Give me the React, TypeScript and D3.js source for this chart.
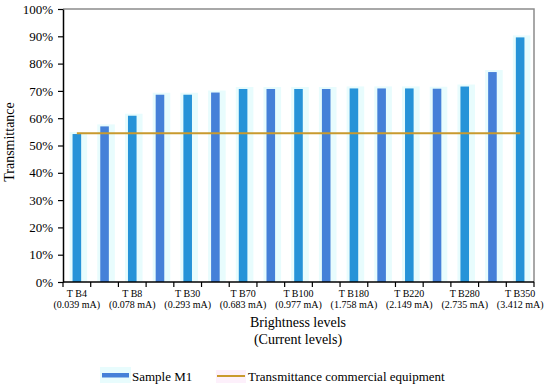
import React, { useEffect, useRef } from 'react';
import * as d3 from 'd3';

// brightness levels, only every other one gets a label on the axis
const levels = ['T B4', '', 'T B8', '', 'T B30', '', 'T B70', '', 'T B100', '', 'T B180', '', 'T B220', '', 'T B280', '', 'T B350'];
const currents = ['(0.039 mA)', '', '(0.078 mA)', '', '(0.293 mA)', '', '(0.683 mA)', '', '(0.977 mA)', '', '(1.758 mA)', '', '(2.149 mA)', '', '(2.735 mA)', '', '(3.412 mA)'];
// transmittance of sample M1 (%)
const sampleM1 = [54.2, 57.0, 60.9, 68.6, 68.6, 69.4, 70.7, 70.7, 70.7, 70.7, 70.9, 70.9, 70.9, 70.8, 71.6, 76.9, 89.6];
const commercial = 54.5;
const yTicks = [0, 10, 20, 30, 40, 50, 60, 70, 80, 90, 100];

const W = 550;
const H = 392;
const font = "'Liberation Serif', 'Times New Roman', serif";

export default function App() {
  const svgRef = useRef<SVGSVGElement>(null);

  useEffect(() => {
    const svg = d3.select(svgRef.current);
    svg.selectAll('*').remove();

    const left = 63, right = 534, top = 9, bottom = 282;
    const idx = sampleM1.map((d, i) => i);

    const x = d3.scaleBand<number>()
      .domain(idx)
      .range([left, right])
      .paddingInner(0.69)
      .paddingOuter(0.345);
    const step = (right - left) / idx.length;

    const y = d3.scaleLinear().domain([0, 100]).range([bottom, top]);

    // plot frame (gray top/right)
    svg.append('path')
      .attr('d', `M${left},${top}H${right}V${bottom}`)
      .attr('fill', 'none')
      .attr('stroke', '#8c8c8c')
      .attr('stroke-width', 1.5);

    // soft glow behind bars
    svg.append('g').selectAll('rect')
      .data(sampleM1)
      .enter()
      .append('rect')
      .attr('x', (d, i) => x(i)! - 3)
      .attr('y', d => y(d) - 2)
      .attr('width', x.bandwidth() + 9)
      .attr('height', d => bottom - y(d) + 2)
      .attr('fill', '#e8fcfd');

    svg.append('g').selectAll('rect')
      .data(sampleM1)
      .enter()
      .append('rect')
      .attr('x', (d, i) => x(i)!)
      .attr('y', d => y(d))
      .attr('width', x.bandwidth())
      .attr('height', d => bottom - y(d))
      .attr('fill', (d, i) => (i % 2 === 0 ? '#2693d8' : '#4580d8'));

    // commercial equipment line
    const cx = (i: number) => x(i)! + x.bandwidth() / 2;
    svg.append('line')
      .attr('x1', cx(0))
      .attr('x2', cx(idx.length - 1))
      .attr('y1', y(commercial))
      .attr('y2', y(commercial))
      .attr('stroke', '#c99a2e')
      .attr('stroke-width', 2);

    // y axis
    const yAxis = svg.append('g')
      .attr('transform', `translate(${left},0)`)
      .call(d3.axisLeft(y).tickValues(yTicks).tickSize(5).tickSizeOuter(0).tickPadding(5).tickFormat(d => `${d}%`));
    yAxis.attr('font-family', null).attr('font-size', null);
    yAxis.select('.domain').attr('stroke', '#000').attr('stroke-width', 1.5);
    yAxis.selectAll('.tick line').attr('stroke', '#000').attr('stroke-width', 1.2);
    yAxis.selectAll('text')
      .style('font-family', font)
      .style('font-size', '13px')
      .attr('fill', '#000');

    // x axis with ticks between categories
    svg.append('line')
      .attr('x1', left).attr('x2', right)
      .attr('y1', bottom).attr('y2', bottom)
      .attr('stroke', '#000').attr('stroke-width', 1.5);
    svg.append('g').selectAll('line')
      .data(d3.range(idx.length + 1))
      .enter()
      .append('line')
      .attr('x1', i => left + i * step)
      .attr('x2', i => left + i * step)
      .attr('y1', bottom)
      .attr('y2', bottom + 5)
      .attr('stroke', '#000')
      .attr('stroke-width', 1.2);

    const lab = svg.append('g')
      .style('font-family', font)
      .style('font-size', '10px')
      .attr('text-anchor', 'middle');
    lab.selectAll('text.lv')
      .data(levels)
      .enter()
      .append('text')
      .attr('class', 'lv')
      .attr('x', (d, i) => cx(i))
      .attr('y', 297)
      .text(d => d);
    lab.selectAll('text.cu')
      .data(currents)
      .enter()
      .append('text')
      .attr('class', 'cu')
      .attr('x', (d, i) => cx(i))
      .attr('y', 307.5)
      .text(d => d);

    // axis titles
    const xt = svg.append('text')
      .style('font-family', font)
      .style('font-size', '14px')
      .attr('text-anchor', 'middle');
    xt.append('tspan').attr('x', 298).attr('y', 327).text('Brightness levels');
    xt.append('tspan').attr('x', 298).attr('y', 344).text('(Current levels)');

    svg.append('text')
      .attr('transform', 'translate(14,142) rotate(-90)')
      .style('font-family', font)
      .style('font-size', '14px')
      .attr('text-anchor', 'middle')
      .text('Transmittance');

    // legend
    const lg = svg.append('g').style('font-family', font).style('font-size', '13px');
    lg.append('rect').attr('x', 100).attr('y', 367).attr('width', 31).attr('height', 16).attr('fill', '#e8fcfd');
    lg.append('rect').attr('x', 102).attr('y', 373).attr('width', 27).attr('height', 4.5).attr('fill', '#4580d8');
    lg.append('text').attr('x', 132).attr('y', 381).text('Sample M1');
    lg.append('rect').attr('x', 216).attr('y', 370).attr('width', 30).attr('height', 13).attr('fill', '#fdf0fb');
    lg.append('line')
      .attr('x1', 217).attr('x2', 245)
      .attr('y1', 376).attr('y2', 376)
      .attr('stroke', '#c99a2e').attr('stroke-width', 2);
    lg.append('text').attr('x', 248).attr('y', 381).text('Transmittance commercial equipment');
  }, []);

  return (
    <svg
      ref={svgRef}
      width={W}
      height={H}
      style={{ position: 'absolute', left: 0, top: 0, background: '#fff' }}
    />
  );
}
